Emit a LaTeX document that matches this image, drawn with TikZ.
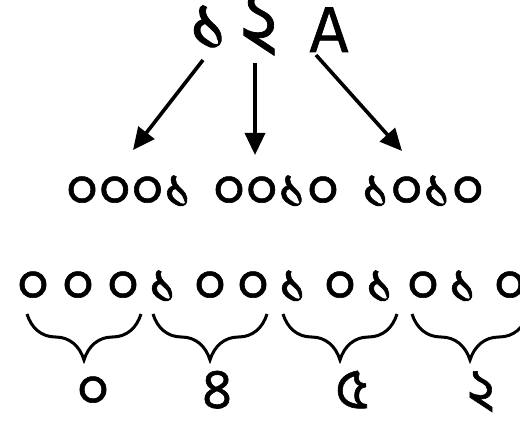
\documentclass[tikz,border=0pt]{standalone}
\usepackage{fontspec}
\newfontfamily\bnfont[Script=Bengali,FakeBold=1]{Hind Siliguri}
\usetikzlibrary{arrows.meta,decorations.pathreplacing}
\begin{document}
\begin{tikzpicture}[x=1pt,y=-1pt,
  big/.style={font=\bnfont\fontsize{78}{78}\selectfont, inner sep=0pt, anchor=base, text depth=0pt, text height=0.5em},
  lat/.style={font=\bnfont\fontsize{66}{66}\selectfont, inner sep=0pt, anchor=base, text depth=0pt},
  mid/.style={font=\bnfont\fontsize{57}{57}\selectfont, inner sep=0pt, anchor=base, text depth=0pt, text height=0.45em},
  arr/.style={line width=3.6pt, -{Triangle[length=22pt,width=20pt]}},
  brc/.style={line width=3pt, decorate, decoration={brace, mirror, amplitude=46pt, aspect=0.5}}]
\useasboundingbox (0,0) rectangle (520,422);
% top
\node[big] (d1) at (209,50) {১};
\node[big] (d2) at (259,50) {২};
\node[lat] (dA) at (329,52) {A};
% middle
\node[mid] (g1) at (129,208) {০০০১};
\node[mid] (g2) at (276,208) {০০১০};
\node[mid] (g3) at (423,208) {১০১০};
\coordinate (a1) at (203,60); \coordinate (t1) at (133,150);
\coordinate (a2) at (255,63); \coordinate (t2) at (255,155);
\coordinate (a3) at (316,55); \coordinate (t3) at (402,151);
\draw[arr] (a1) -- (t1);
\draw[arr] (a2) -- (t2);
\draw[arr] (a3) -- (t3);
% bottom bits
\foreach \x/\d [count=\i] in {33/০,78/০,123/০,163/১,210/০,253/০,293/১,340/০,380/১,423/০,463/১,510/০}
  \node[mid] (b\i) at (\x,303) {\d};
\coordinate (s1) at (27,314); \coordinate (e1) at (141,314);
\coordinate (s2) at (153,314); \coordinate (e2) at (267,314);
\coordinate (s3) at (283,314); \coordinate (e3) at (397,314);
\coordinate (s4) at (412,314); \coordinate (e4) at (528,314);
\draw[brc] (s1) -- (e1);
\draw[brc] (s2) -- (e2);
\draw[brc] (s3) -- (e3);
\draw[brc] (s4) -- (e4);
\node[mid] (o1) at (93,408) {০};
\node[mid] (o2) at (217,408) {৪};
\node[mid] (o3) at (352,408) {৫};
\node[mid] (o4) at (481,408) {২};
\end{tikzpicture}
\end{document}
